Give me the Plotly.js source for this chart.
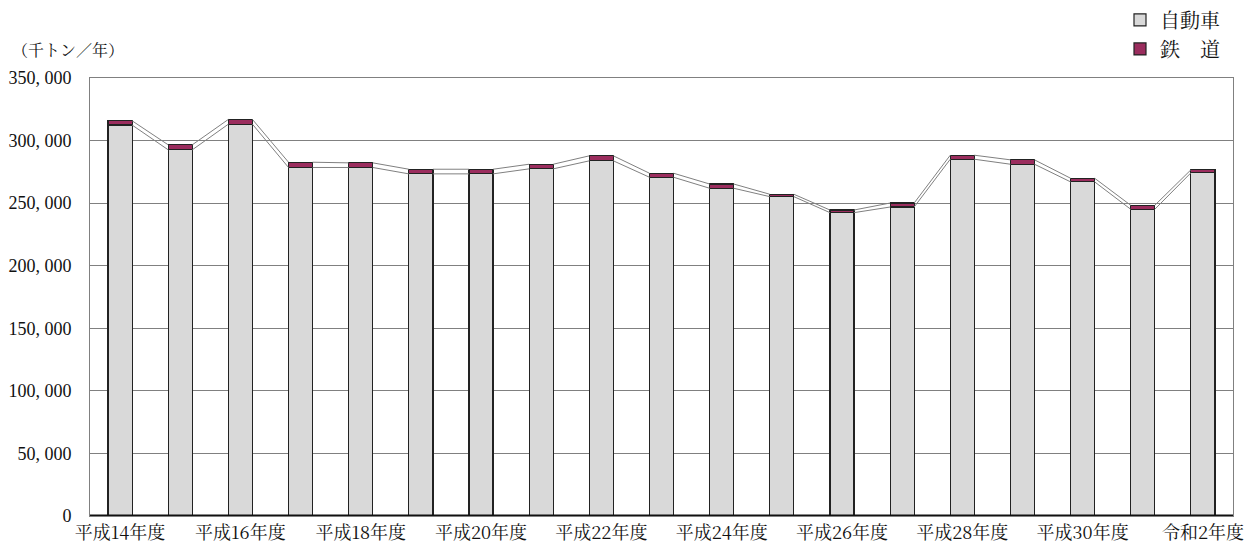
<!DOCTYPE html>
<html>
<head>
<meta charset="utf-8">
<script src="https://cdn.plot.ly/plotly-3.0.1.min.js"></script>
<style>html,body{margin:0;padding:0;background:#fff;}#chart{width:1246px;height:549px;}</style>
</head>
<body>
<div id="chart"></div>
<script>
const categories = ['平成14年度','平成15年度','平成16年度','平成17年度','平成18年度','平成19年度','平成20年度','平成21年度','平成22年度','平成23年度','平成24年度','平成25年度','平成26年度','平成27年度','平成28年度','平成29年度','平成30年度','令和元年度','令和2年度'];
const truck = [312400,292600,313100,278500,278500,273400,273400,277400,283800,270700,261900,255200,242400,246900,285100,281100,267000,245100,274200];
const rail  = [3400,4000,3800,4200,3700,3700,3700,3700,4000,3200,3400,1900,2100,3200,3200,3500,2900,3200,2400];
const yTickVals = [0,50000,100000,150000,200000,250000,300000,350000];
const yTickText = ['0','50, 000','100, 000','150, 000','200, 000','250, 000','300, 000','350, 000'];
const xTickLabels = ['平成14年度','平成16年度','平成18年度','平成20年度','平成22年度','平成24年度','平成26年度','平成28年度','平成30年度','令和2年度'];

const idx = categories.map((c,i)=>i);
const xTickVals = xTickLabels.map(l => categories.indexOf(l));
const totals = truck.map((v,i)=>v+rail[i]);
const halfW = 0.2;

function seriesLine(vals){
  const xs=[], ys=[];
  for(let i=0;i<vals.length-1;i++){
    xs.push(i+halfW, i+1-halfW, null);
    ys.push(vals[i], vals[i+1], null);
  }
  return {x:xs, y:ys, type:'scatter', mode:'lines', line:{color:'#808080', width:1}, showlegend:false, hoverinfo:'skip', connectgaps:false};
}

const jp = '"Noto Serif CJK JP", "Noto Sans CJK JP", serif';
const data = [
  seriesLine(truck),
  seriesLine(totals),
  {x:idx, y:truck, type:'bar', name:'自動車', width:0.4, marker:{color:'#d9d9d9', line:{color:'#222', width:1.2}}},
  {x:idx, y:rail, type:'bar', name:'鉄　道', width:0.4, marker:{color:'#9b2d5e', line:{color:'#222', width:1.2}}}
];

const layout = {
  width:1246, height:549,
  margin:{l:90, r:13, t:78, b:33, autoexpand:false},
  paper_bgcolor:'#fff', plot_bgcolor:'#fff',
  barmode:'stack',
  showlegend:true,
  legend:{x:0.993, xanchor:'right', y:1.177, yanchor:'top', traceorder:'normal', font:{family:jp, size:20, color:'#111'}, bgcolor:'rgba(0,0,0,0)', itemwidth:30},
  xaxis:{range:[-0.5,18.5], tickvals:xTickVals, ticktext:xTickLabels, showgrid:false, zeroline:false,
         showline:true, mirror:true, linecolor:'#808080', linewidth:1, ticks:'',
         tickfont:{family:jp, size:18, color:'#111'}, fixedrange:true},
  yaxis:{range:[0,350000], tickvals:yTickVals, ticktext:yTickText, showgrid:true, gridcolor:'#808080', gridwidth:1,
         zeroline:false, showline:true, mirror:true, linecolor:'#808080', linewidth:1, ticks:'',
         ticklabelstandoff:14, tickfont:{family:'"Liberation Serif", serif', size:18, color:'#111'}, fixedrange:true},
  shapes:[{type:'line', xref:'paper', yref:'y', x0:0, x1:1, y0:0, y1:0, line:{color:'#111', width:3}}],
  annotations:[{text:'（千トン／年）', xref:'paper', yref:'paper', x:-0.07, y:1.064, xanchor:'left', yanchor:'middle', showarrow:false,
                font:{family:jp, size:16, color:'#111'}}]
};

Plotly.newPlot('chart', data, layout, {displayModeBar:false, staticPlot:true});
</script>
</body>
</html>
